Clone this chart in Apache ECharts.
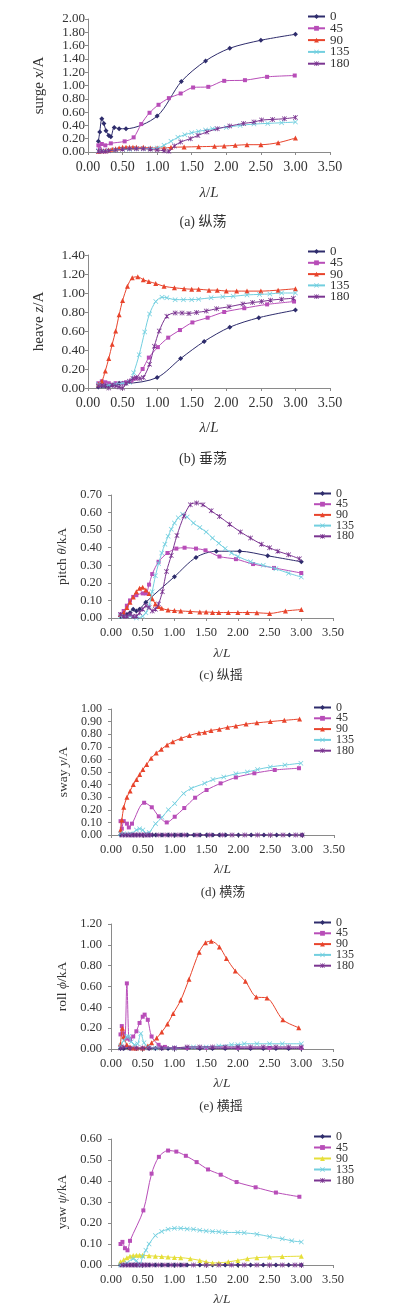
<!DOCTYPE html>
<html><head><meta charset="utf-8">
<script src="https://cdn.jsdelivr.net/npm/echarts@6/dist/echarts.min.js"></script>
<style>html,body{margin:0;padding:0;background:#fff}#c{width:394px;height:1316px}</style>
</head><body><div id="c"></div>
<script>
// ---------------- DATA ([λ/L, value] pairs) ----------------
const headings = ['0', '45', '90', '135', '180'];
const xTicks = [0, 0.5, 1, 1.5, 2, 2.5, 3, 3.5];

// (a) surge
const surge_0 = [[0.15,0.16],[0.17,0.30],[0.2,0.50],[0.23,0.43],[0.26,0.32],[0.3,0.25],[0.33,0.23],[0.38,0.37],[0.45,0.35],[0.55,0.35],[1.0,0.54],[1.35,1.06],[1.7,1.37],[2.05,1.56],[2.5,1.68],[3.0,1.77]];
const surge_45 = [[0.15,0.10],[0.17,0.04],[0.2,0.12],[0.25,0.10],[0.33,0.13],[0.53,0.16],[0.66,0.22],[0.77,0.42],[0.89,0.59],[1.02,0.71],[1.17,0.81],[1.34,0.88],[1.52,0.97],[1.74,0.98],[1.97,1.07],[2.27,1.08],[2.59,1.13],[2.99,1.15]];
const surge_90 = [[0.15,0.01],[0.2,0.02],[0.25,0.02],[0.3,0.03],[0.35,0.04],[0.4,0.05],[0.45,0.06],[0.5,0.07],[0.55,0.07],[0.6,0.07],[0.65,0.07],[0.7,0.07],[0.8,0.07],[0.9,0.06],[1.0,0.06],[1.1,0.06],[1.2,0.07],[1.39,0.075],[1.6,0.08],[1.83,0.085],[1.97,0.09],[2.13,0.10],[2.3,0.11],[2.5,0.11],[2.75,0.14],[3.0,0.21]];
const surge_135 = [[0.15,0.02],[0.2,0.02],[0.3,0.02],[0.4,0.03],[0.5,0.04],[0.6,0.04],[0.7,0.05],[0.8,0.05],[0.9,0.05],[1.0,0.06],[1.1,0.10],[1.2,0.16],[1.3,0.22],[1.4,0.26],[1.5,0.29],[1.6,0.31],[1.7,0.33],[1.8,0.35],[2.0,0.37],[2.2,0.40],[2.4,0.42],[2.6,0.43],[2.8,0.44],[3.0,0.45]];
const surge_180 = [[0.15,0.01],[0.2,0.01],[0.25,0.01],[0.3,0.02],[0.4,0.03],[0.5,0.04],[0.6,0.05],[0.7,0.05],[0.8,0.05],[0.9,0.04],[1.0,0.03],[1.1,0.02],[1.17,0.01],[1.25,0.09],[1.34,0.15],[1.48,0.20],[1.59,0.25],[1.72,0.30],[1.87,0.35],[2.05,0.39],[2.25,0.43],[2.4,0.45],[2.51,0.48],[2.67,0.49],[2.84,0.50],[3.0,0.52]];

// (b) heave
const heave_0 = [[0.15,0.01],[0.2,0.02],[0.25,0.02],[0.3,0.03],[0.35,0.03],[0.4,0.04],[0.45,0.05],[0.5,0.05],[0.55,0.05],[1.0,0.11],[1.34,0.31],[1.68,0.49],[2.05,0.64],[2.47,0.74],[3.0,0.82]];
const heave_45 = [[0.15,0.05],[0.2,0.07],[0.25,0.06],[0.3,0.05],[0.4,0.05],[0.5,0.05],[0.55,0.06],[0.63,0.08],[0.69,0.10],[0.79,0.20],[0.88,0.32],[1.01,0.43],[1.16,0.53],[1.33,0.61],[1.51,0.69],[1.73,0.74],[1.97,0.80],[2.26,0.84],[2.59,0.88],[2.98,0.91]];
const heave_90 = [[0.15,0.04],[0.2,0.07],[0.25,0.18],[0.3,0.31],[0.35,0.46],[0.4,0.60],[0.45,0.77],[0.5,0.92],[0.57,1.07],[0.64,1.16],[0.72,1.17],[0.8,1.14],[0.88,1.12],[0.98,1.10],[1.1,1.07],[1.25,1.055],[1.39,1.045],[1.5,1.04],[1.6,1.04],[1.75,1.03],[1.87,1.03],[2.0,1.02],[2.15,1.02],[2.3,1.02],[2.5,1.02],[2.75,1.03],[3.0,1.045]];
const heave_135 = [[0.15,0.04],[0.2,0.02],[0.3,0.03],[0.4,0.04],[0.5,0.05],[0.6,0.06],[0.66,0.16],[0.74,0.35],[0.82,0.59],[0.89,0.78],[0.98,0.91],[1.07,0.955],[1.14,0.95],[1.26,0.93],[1.38,0.93],[1.5,0.93],[1.6,0.935],[1.78,0.95],[1.95,0.96],[2.1,0.965],[2.3,0.98],[2.48,0.985],[2.63,0.99],[2.8,1.0],[3.0,1.0]];
const heave_180 = [[0.15,0.02],[0.2,0.03],[0.25,0.02],[0.3,0.00],[0.35,0.03],[0.4,0.02],[0.45,0.01],[0.5,0.00],[0.55,0.05],[0.6,0.07],[0.65,0.10],[0.7,0.11],[0.75,0.10],[0.8,0.11],[0.89,0.25],[0.96,0.44],[1.03,0.60],[1.14,0.755],[1.26,0.79],[1.36,0.79],[1.46,0.785],[1.57,0.795],[1.71,0.81],[1.86,0.835],[2.04,0.855],[2.24,0.885],[2.38,0.90],[2.51,0.91],[2.64,0.925],[2.8,0.935],[2.97,0.945]];

// (c) pitch
const pitch_0 = [[0.15,0.01],[0.2,0.02],[0.25,0.02],[0.3,0.03],[0.35,0.05],[0.4,0.04],[0.45,0.05],[0.55,0.09],[1.0,0.235],[1.34,0.345],[1.66,0.38],[2.03,0.38],[2.47,0.354],[3.0,0.32]];
const pitch_45 = [[0.15,0.02],[0.2,0.04],[0.25,0.07],[0.3,0.10],[0.35,0.12],[0.4,0.13],[0.5,0.14],[0.55,0.14],[0.6,0.19],[0.65,0.25],[0.75,0.32],[0.89,0.37],[1.03,0.395],[1.16,0.40],[1.34,0.395],[1.49,0.385],[1.71,0.35],[1.97,0.335],[2.24,0.307],[2.57,0.285],[3.0,0.256]];
const pitch_90 = [[0.15,0.02],[0.2,0.03],[0.25,0.06],[0.3,0.09],[0.35,0.12],[0.4,0.15],[0.45,0.17],[0.5,0.175],[0.55,0.16],[0.6,0.14],[0.65,0.11],[0.7,0.08],[0.75,0.065],[0.8,0.055],[0.9,0.045],[1.0,0.042],[1.1,0.04],[1.25,0.037],[1.4,0.034],[1.5,0.034],[1.6,0.032],[1.7,0.031],[1.85,0.031],[2.0,0.031],[2.15,0.031],[2.3,0.03],[2.5,0.026],[2.75,0.04],[3.0,0.048]];
const pitch_135 = [[0.15,0.01],[0.2,0.01],[0.3,0.01],[0.4,0.00],[0.5,0.01],[0.55,0.03],[0.6,0.07],[0.65,0.15],[0.7,0.24],[0.75,0.31],[0.8,0.37],[0.85,0.42],[0.9,0.465],[0.95,0.505],[1.0,0.54],[1.06,0.57],[1.13,0.59],[1.2,0.575],[1.3,0.54],[1.4,0.515],[1.5,0.49],[1.6,0.455],[1.7,0.425],[1.8,0.395],[1.9,0.37],[2.0,0.35],[2.2,0.32],[2.4,0.30],[2.6,0.28],[2.8,0.255],[3.0,0.233]];
const pitch_180 = [[0.15,0.02],[0.2,0.01],[0.25,0.01],[0.3,0.02],[0.35,0.01],[0.4,0.01],[0.45,0.03],[0.5,0.05],[0.55,0.07],[0.6,0.06],[0.65,0.04],[0.7,0.05],[0.75,0.08],[0.81,0.15],[0.875,0.265],[0.95,0.355],[1.04,0.47],[1.15,0.58],[1.25,0.645],[1.35,0.655],[1.45,0.645],[1.58,0.61],[1.71,0.577],[1.87,0.534],[2.04,0.49],[2.2,0.455],[2.37,0.42],[2.5,0.40],[2.63,0.38],[2.8,0.36],[2.97,0.337]];

// (d) sway
const sway_0 = [[0.15,0],[0.2,0],[0.25,0],[0.3,0],[0.35,0],[0.4,0],[0.45,0],[0.5,0],[0.55,0],[0.6,0],[0.65,0],[0.7,0],[0.8,0],[0.9,0],[1.0,0],[1.1,0],[1.2,0],[1.3,0],[1.4,0],[1.5,0],[1.6,0],[1.7,0],[1.8,0],[2.0,0],[2.2,0],[2.4,0],[2.6,0],[2.8,0],[3.0,0]];
const sway_45 = [[0.15,0.11],[0.17,0.05],[0.2,0.11],[0.25,0.09],[0.28,0.06],[0.33,0.09],[0.52,0.256],[0.64,0.22],[0.75,0.148],[0.875,0.10],[1.0,0.145],[1.15,0.214],[1.32,0.296],[1.5,0.357],[1.72,0.41],[1.96,0.457],[2.25,0.49],[2.57,0.516],[2.95,0.53]];
const sway_90 = [[0.15,0.04],[0.17,0.12],[0.2,0.22],[0.25,0.30],[0.3,0.35],[0.35,0.40],[0.4,0.44],[0.45,0.48],[0.5,0.52],[0.56,0.56],[0.63,0.61],[0.71,0.65],[0.79,0.68],[0.88,0.715],[0.97,0.74],[1.1,0.767],[1.23,0.79],[1.38,0.81],[1.47,0.815],[1.57,0.83],[1.7,0.84],[1.83,0.855],[1.96,0.865],[2.12,0.88],[2.29,0.89],[2.5,0.90],[2.72,0.91],[2.96,0.92]];
const sway_135 = [[0.15,0.01],[0.2,0.01],[0.3,0.01],[0.4,0.04],[0.45,0.05],[0.5,0.04],[0.55,0.01],[0.6,0.02],[0.7,0.09],[0.8,0.14],[0.9,0.20],[1.0,0.25],[1.14,0.33],[1.26,0.37],[1.47,0.41],[1.6,0.44],[1.77,0.46],[1.96,0.486],[2.14,0.50],[2.3,0.52],[2.5,0.54],[2.73,0.555],[2.98,0.57]];
const sway_180 = [[0.17,0],[0.22,0],[0.27,0],[0.32,0],[0.37,0],[0.42,0],[0.47,0],[0.52,0],[0.57,0],[0.62,0],[0.75,0],[0.85,0],[0.95,0],[1.05,0],[1.15,0],[1.35,0],[1.55,0],[1.75,0],[1.9,0],[2.1,0],[2.3,0],[2.5,0],[2.7,0],[2.9,0],[3.0,0]];

// (e) roll
const roll_0 = [[0.15,0.005],[0.2,0.005],[0.3,0.005],[0.4,0.005],[0.5,0.005],[0.6,0.005],[0.7,0.005],[0.8,0.005],[0.9,0.005],[1.0,0.005],[1.2,0.005],[1.4,0.005],[1.6,0.005],[1.8,0.005],[2.0,0.005],[2.2,0.005],[2.4,0.005],[2.6,0.005],[2.8,0.005],[3.0,0.005]];
const roll_45 = [[0.15,0.14],[0.17,0.22],[0.2,0.15],[0.22,0.10],[0.25,0.63],[0.28,0.10],[0.3,0.09],[0.35,0.12],[0.4,0.17],[0.45,0.25],[0.5,0.31],[0.53,0.33],[0.58,0.28],[0.64,0.12],[0.75,0.04],[0.85,0.02],[1.0,0.01],[1.2,0.01],[1.5,0.01],[2.0,0.01],[2.5,0.01],[3.0,0.01]];
const roll_90 = [[0.15,0.05],[0.18,0.20],[0.2,0.12],[0.25,0.04],[0.3,0.02],[0.35,0.01],[0.4,0.01],[0.5,0.01],[0.58,0.03],[0.64,0.06],[0.72,0.105],[0.8,0.163],[0.89,0.24],[0.98,0.34],[1.1,0.47],[1.23,0.67],[1.39,0.93],[1.49,1.02],[1.58,1.035],[1.71,0.98],[1.82,0.87],[1.96,0.75],[2.12,0.65],[2.29,0.50],[2.46,0.49],[2.71,0.28],[2.96,0.205]];
const roll_135 = [[0.15,0.03],[0.2,0.08],[0.25,0.12],[0.28,0.12],[0.32,0.07],[0.37,0.04],[0.42,0.05],[0.47,0.15],[0.52,0.06],[0.58,0.02],[0.7,0.01],[1.0,0.01],[1.3,0.02],[1.5,0.02],[1.7,0.03],[1.9,0.04],[2.0,0.04],[2.1,0.05],[2.3,0.05],[2.5,0.05],[2.7,0.05],[3.0,0.05]];
const roll_180 = [[0.15,0.01],[0.2,0.02],[0.3,0.01],[0.4,0.01],[0.5,0.01],[0.6,0.01],[0.8,0.01],[1.0,0.01],[1.2,0.02],[1.4,0.02],[1.6,0.02],[1.8,0.02],[2.0,0.02],[2.2,0.02],[2.4,0.02],[2.6,0.02],[2.8,0.02],[3.0,0.02]];

// (f) yaw
const yaw_0 = [[0.15,0],[0.2,0],[0.25,0],[0.3,0],[0.35,0],[0.4,0],[0.45,0],[0.5,0],[0.55,0],[0.6,0],[0.7,0],[0.8,0],[0.9,0],[1.0,0],[1.1,0],[1.2,0],[1.4,0],[1.6,0],[1.8,0],[2.0,0],[2.2,0],[2.4,0],[2.6,0],[2.8,0],[3.0,0]];
const yaw_45 = [[0.15,0.10],[0.18,0.11],[0.22,0.08],[0.26,0.07],[0.3,0.115],[0.51,0.26],[0.64,0.435],[0.755,0.515],[0.9,0.545],[1.03,0.54],[1.18,0.52],[1.35,0.49],[1.53,0.455],[1.73,0.43],[1.98,0.395],[2.28,0.37],[2.6,0.345],[2.97,0.325]];
const yaw_90 = [[0.15,0.015],[0.2,0.025],[0.25,0.035],[0.3,0.042],[0.35,0.045],[0.4,0.047],[0.45,0.047],[0.5,0.046],[0.6,0.044],[0.7,0.042],[0.8,0.04],[0.9,0.038],[1.0,0.036],[1.1,0.035],[1.25,0.03],[1.4,0.022],[1.5,0.015],[1.6,0.01],[1.7,0.01],[1.85,0.015],[2.0,0.022],[2.15,0.03],[2.3,0.035],[2.5,0.038],[2.7,0.04],[3.0,0.042]];
const yaw_135 = [[0.15,0.0],[0.25,0.01],[0.35,0.03],[0.4,0.02],[0.45,0.0],[0.5,0.04],[0.55,0.07],[0.6,0.10],[0.7,0.14],[0.8,0.16],[0.9,0.17],[1.0,0.175],[1.1,0.175],[1.2,0.172],[1.3,0.17],[1.4,0.165],[1.5,0.162],[1.6,0.16],[1.7,0.158],[1.8,0.155],[2.0,0.155],[2.1,0.153],[2.3,0.147],[2.5,0.135],[2.7,0.125],[2.85,0.115],[3.0,0.11]];
const yaw_180 = [[0.17,0],[0.22,0],[0.27,0],[0.32,0],[0.37,0],[0.42,0],[0.47,0],[0.52,0],[0.57,0],[0.65,0],[0.75,0],[0.85,0],[0.95,0],[1.05,0],[1.15,0],[1.3,0],[1.5,0],[1.7,0],[1.9,0],[2.1,0],[2.3,0],[2.5,0],[2.7,0],[2.9,0],[3.0,0]];

// y-axis ranges and labels
const yMaxes = [2.0, 1.4, 0.7, 1.0, 1.2, 0.6];
const yIntervals = [0.2, 0.2, 0.1, 0.1, 0.2, 0.1];
const yNames = [['surge ', 'x', '/A'], ['heave ', 'z', '/A'], ['pitch ', 'θ', '/kA'], ['sway ', 'y', '/A'], ['roll ', 'ϕ', '/kA'], ['yaw ', 'ψ', '/kA']];
const captions = ['(a) 纵荡', '(b) 垂荡', '(c) 纵摇', '(d) 横荡', '(e) 横摇', ''];
const panelData = [
  [surge_0, surge_45, surge_90, surge_135, surge_180],
  [heave_0, heave_45, heave_90, heave_135, heave_180],
  [pitch_0, pitch_45, pitch_90, pitch_135, pitch_180],
  [sway_0, sway_45, sway_90, sway_135, sway_180],
  [roll_0, roll_45, roll_90, roll_135, roll_180],
  [yaw_0, yaw_45, yaw_90, yaw_135, yaw_180]
];

// ---------------- STYLE / LAYOUT ----------------
const FONT = "'Liberation Serif','Times New Roman',serif";
const TXT = '#333';
const colorsStd = ['#2e2c6c', '#b84db8', '#e8442c', '#72cfdf', '#7b3591'];
const colorsYaw = ['#2e2c6c', '#b84db8', '#e6df3a', '#72cfdf', '#7b3591'];
const X_SYM = 'path://M0,1L1,0L5,4L9,0L10,1L6,5L10,9L9,10L5,6L1,10L0,9L4,5Z';
const STAR_SYM = 'path://M0,1L1,0L5,4L9,0L10,1L6,5L10,9L9,10L5,6L1,10L0,9L4,5ZM4.3,0L5.7,0L5.7,10L4.3,10Z';
const symbols = ['diamond', 'rect', 'triangle', X_SYM, STAR_SYM];
const symSizes = [5, 4, 5, 5, 5];

const layouts = [
  {left: 88, top: 19, width: 242, height: 133, tick: 14, yTick: 13, yMargin: 3, yGap: 41, xGap: 34, xMargin: 8, leg: {left: 307, top: 10, gap: -1.2, fs: 13}, cap: [203, 222], capFs: 14},
  {left: 88, top: 255, width: 242, height: 133, tick: 14, yTick: 13.5, yMargin: 3, yGap: 41, xGap: 33, xMargin: 8, leg: {left: 307, top: 245, gap: -1.7, fs: 13}, cap: [203, 459], capFs: 14},
  {left: 111, top: 495, width: 222, height: 123, tick: 12.5, yTick: 12.5, yMargin: 9, yGap: 37, xGap: 28, xMargin: 8, leg: {left: 313, top: 487.5, gap: -1.3, fs: 12}, cap: [221, 676], capFs: 13},
  {left: 111, top: 709, width: 223, height: 126, tick: 12.5, yTick: 12, yMargin: 9, yGap: 37, xGap: 27, xMargin: 8, leg: {left: 313, top: 701.5, gap: -1.2, fs: 12}, cap: [223, 893], capFs: 13},
  {left: 111, top: 924, width: 222, height: 125, tick: 12.5, yTick: 12.5, yMargin: 9, yGap: 37, xGap: 27, xMargin: 8, leg: {left: 313, top: 916.5, gap: -1.2, fs: 12}, cap: [221, 1107], capFs: 13},
  {left: 111, top: 1139, width: 222, height: 126, tick: 12.5, yTick: 12.5, yMargin: 9, yGap: 36, xGap: 27, xMargin: 8, leg: {left: 313, top: 1130.5, gap: -1, fs: 12}, cap: [221, 1320], capFs: 13}
];
const keys = ['a', 'b', 'c', 'd', 'e', 'f'];

const grid = [], xAxis = [], yAxis = [], legend = [], series = [], graphic = [];
layouts.forEach((L, i) => {
  grid.push({left: L.left, top: L.top, width: L.width, height: L.height, containLabel: false});
  const axLine = {show: true, lineStyle: {color: '#8a8a8a', width: 1}};
  const richN = {fontFamily: FONT, fontSize: L.tick + 1, color: TXT};
  const richI = {fontFamily: FONT, fontSize: L.tick + 1, color: TXT, fontStyle: 'italic'};
  xAxis.push({
    gridIndex: i, type: 'value', min: 0, max: 3.5, interval: 0.5,
    axisLine: axLine, axisTick: {show: true, length: 3, lineStyle: {color: '#8a8a8a'}},
    splitLine: {show: false},
    axisLabel: {fontFamily: FONT, fontSize: L.tick, color: TXT, margin: L.xMargin, showMinLabel: true, showMaxLabel: true, formatter: v => v.toFixed(2)},
    name: '{i|λ}{n|/}{i|L}', nameLocation: 'middle', nameGap: L.xGap,
    nameTextStyle: {rich: {n: richN, i: richI}}
  });
  const yn = yNames[i];
  yAxis.push({
    gridIndex: i, type: 'value', min: 0, max: yMaxes[i], interval: yIntervals[i],
    axisLine: axLine, axisTick: {show: true, length: 3, lineStyle: {color: '#8a8a8a'}},
    splitLine: {show: false},
    axisLabel: {fontFamily: FONT, fontSize: L.yTick, color: TXT, margin: L.yMargin, showMinLabel: true, showMaxLabel: true, formatter: v => v.toFixed(2)},
    name: '{n|' + yn[0] + '}{i|' + yn[1] + '}{n|' + yn[2] + '}', nameLocation: 'middle', nameGap: L.yGap,
    nameTextStyle: {rich: {n: richN, i: richI}}
  });
  const names = headings.map(h => keys[i] + '-' + h);
  legend.push({
    orient: 'vertical', left: L.leg.left, top: L.leg.top, itemGap: L.leg.gap,
    itemWidth: 17, itemHeight: 6, padding: 0,
    data: names, formatter: n => n.split('-')[1],
    textStyle: {fontFamily: FONT, fontSize: L.leg.fs, color: TXT},
    selectedMode: false
  });
  const cols = i === 5 ? colorsYaw : colorsStd;
  headings.forEach((h, k) => {
    series.push({
      name: names[k], type: 'line', xAxisIndex: i, yAxisIndex: i,
      data: panelData[i][k], smooth: 0.3,
      symbol: symbols[k], symbolSize: symSizes[k], showSymbol: true,
      lineStyle: {width: 1, color: cols[k]}, itemStyle: {color: cols[k]},
      animation: false, z: 2 + k
    });
  });
  if (captions[i]) {
    graphic.push({type: 'text', x: L.cap[0], y: L.cap[1],
      style: {text: captions[i], align: 'center', verticalAlign: 'middle',
        font: L.capFs + "px 'Liberation Serif','Noto Sans CJK SC',serif", fill: TXT}});
  }
});

const chart = echarts.init(document.getElementById('c'), null, {renderer: 'canvas'});
chart.setOption({animation: false, backgroundColor: '#fff', grid, xAxis, yAxis, legend, series, graphic});
</script>
</body></html>
